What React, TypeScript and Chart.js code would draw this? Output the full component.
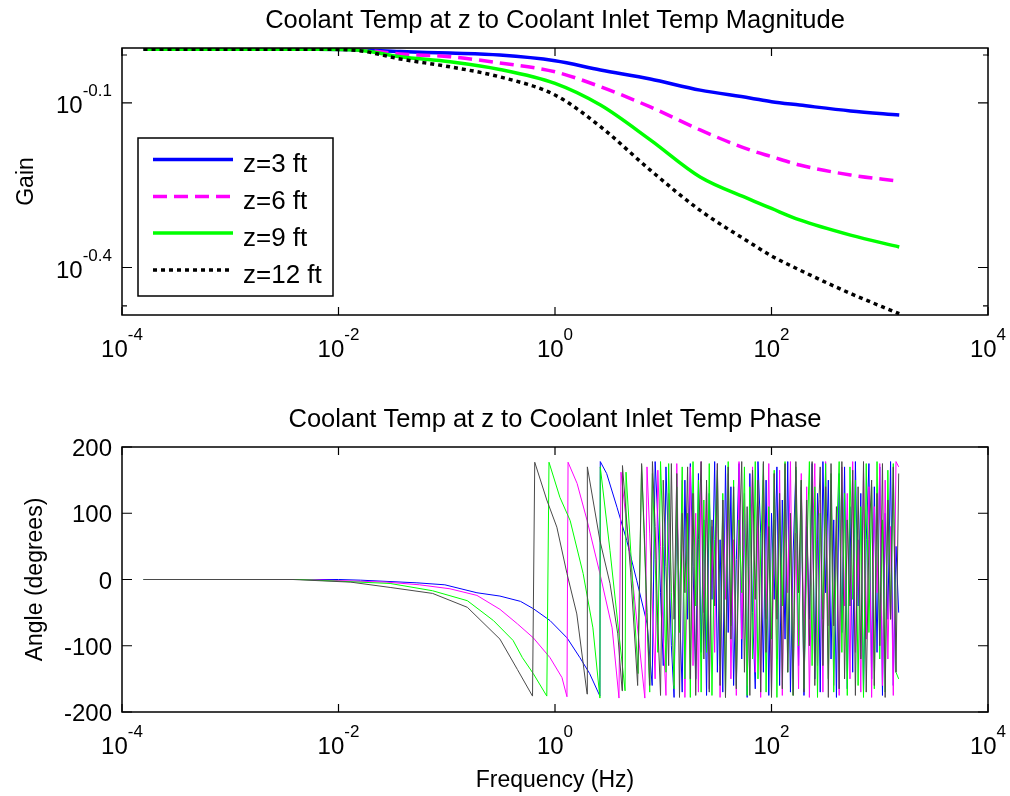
import React, { useEffect, useRef } from 'react';
import { Chart, registerables } from 'chart.js';

Chart.register(...registerables);

// ---------- shared ----------
const seriesNames = ['z=3 ft', 'z=6 ft', 'z=9 ft', 'z=12 ft'];
const gainColors = ['#0000ff', '#ff00ff', '#00ff00', '#000000'];
const phaseColors = ['#0000ff', '#ff00ff', '#00ff00', '#4a4a4a'];
const gainDashes: number[][] = [[], [14, 7], [], [4, 4]];

const xTickExponents = [-4, -2, 0, 2, 4];
const xMin = 1e-4;
const xMax = 1e4;

// ---------- magnitude ----------
const gainFreq = [1.58e-4, 0.0063, 0.0148, 0.0372, 0.107, 0.309, 1, 2.63, 7.59, 21.9, 63.1, 100, 182, 537, 1514];
const gainZ3 = [0.995, 0.995, 0.993, 0.985, 0.979, 0.971, 0.948, 0.912, 0.878, 0.838, 0.811, 0.798, 0.787, 0.768, 0.755];
const gainZ6 = [0.995, 0.995, 0.993, 0.975, 0.964, 0.939, 0.905, 0.85, 0.781, 0.709, 0.652, 0.634, 0.612, 0.587, 0.572];
const gainZ9 = [0.995, 0.995, 0.992, 0.964, 0.944, 0.914, 0.862, 0.787, 0.68, 0.582, 0.53, 0.51, 0.486, 0.456, 0.434];
const gainZ12 = [0.995, 0.995, 0.99, 0.955, 0.924, 0.886, 0.821, 0.719, 0.599, 0.506, 0.442, 0.418, 0.394, 0.357, 0.328];
const gainTickExponents = [-0.4, -0.1];
const gainMinorTicks = [0.339, 0.971];
const gainMin = 0.3262;
const gainMax = 1;

// ---------- phase ----------
const phaseLowFreqZ3 = [1.58e-4, 0.01, 0.016, 0.053, 0.096, 0.19, 0.31, 0.48, 0.63, 0.9, 1.29, 1.7, 2.09, 2.6, 2.62, 3.0, 3.74, 4.6, 5.7, 7.1, 7.9];
const phaseLowZ3 = [0, 0, -1, -5, -8, -20, -25, -33, -44, -62, -88, -118, -142, -176, 178, 160, 109, 59, -2, -67, -160];
const phaseLowFreqZ6 = [1.58e-4, 0.005, 0.028, 0.056, 0.107, 0.19, 0.31, 0.45, 0.63, 0.9, 1.16, 1.29, 1.32, 1.6, 1.98, 2.6, 3.37, 3.9, 4.07, 5.25, 6.76];
const phaseLowZ6 = [0, 0, -4, -8, -14, -24, -45, -67, -88, -118, -148, -177, 177, 145, 89, 9, -73, -179, 162, -6, -179];
const phaseLowFreqZ9 = [1.58e-4, 0.0044, 0.03, 0.074, 0.155, 0.27, 0.41, 0.5, 0.63, 0.84, 0.88, 1.11, 1.38, 1.82, 2.24, 2.6, 2.62, 3.22, 4.44, 4.53, 5.85];
const phaseLowZ9 = [0, 0, -6, -17, -32, -62, -92, -118, -142, -176, 177, 124, 89, 9, -73, -179, 170, 44, -168, 162, -142];
const phaseLowFreqZ12 = [1.58e-4, 0.0038, 0.013, 0.03, 0.074, 0.155, 0.31, 0.45, 0.62, 0.65, 0.84, 1.04, 1.29, 1.59, 1.98, 1.99, 2.6, 3.22, 3.8, 4.17, 4.2, 5.0, 5.8];
const phaseLowZ12 = [0, 0, -4, -12, -21, -42, -90, -136, -176, 177, 120, 79, 9, -52, -173, 170, 59, -6, -82, -168, 172, 10, -160];

// shared high-frequency sample grid, as log10(Hz)
const denseLogFreq = [
  0.8, 0.825, 0.85, 0.875, 0.9, 0.925, 0.95, 0.975, 1.0, 1.025,
  1.05, 1.075, 1.1, 1.125, 1.15, 1.175, 1.2, 1.225, 1.25, 1.275,
  1.3, 1.325, 1.35, 1.375, 1.4, 1.425, 1.45, 1.475, 1.5, 1.525,
  1.55, 1.575, 1.6, 1.625, 1.65, 1.675, 1.7, 1.725, 1.75, 1.775,
  1.8, 1.825, 1.85, 1.875, 1.9, 1.925, 1.95, 1.975, 2.0, 2.025,
  2.05, 2.075, 2.1, 2.125, 2.15, 2.175, 2.2, 2.225, 2.25, 2.275,
  2.3, 2.325, 2.35, 2.375, 2.4, 2.425, 2.45, 2.475, 2.5, 2.525,
  2.55, 2.575, 2.6, 2.625, 2.65, 2.675, 2.7, 2.725, 2.75, 2.775,
  2.8, 2.825, 2.85, 2.875, 2.9, 2.925, 2.95, 2.975, 3.0, 3.025,
  3.05, 3.075, 3.1, 3.125, 3.15, 3.175,
];
const phaseDenseZ3 = [
  178, 90, -20, -130, 170, 40, -100, -178, 120, -40,
  -170, 150, -60, 175, 20, -150, 160, -110, 90, -175,
  130, -30, 178, -140, 60, -170, 172, -80, 140, -160,
  30, 175, -120, 110, -178, 160, -50, -165, 178, 70,
  -140, 150, -175, 100, -30, 170, -160, 120, -90, 178,
  -170, 40, 165, -130, 140, -175, 80, -60, 175, -150,
  130, -170, 178, -20, 150, -120, 90, -178, 160, -80,
  170, -165, 110, -140, 178, -40, 130, -170, 60, 175,
  -150, 140, -110, 170, -175, 100, -60, 178, -160, 50,
  -50,
];
const phaseDenseZ6 = [
  170, 70, -40, -150, 165, 50, -90, -175, 130, -20,
  -160, 175, -70, 150, -178, 40, 170, -130, 100, -170,
  178, -50, 140, -165, 80, -110, 175, -178, 120, -30,
  160, -150, 60, -175, 178, -90, 130, -160, 20, 170,
  -140, 110, -178, 150, -60, 175, -170, 90, -120, 165,
  -175, 130, -20, 178, -150, 70, -165, 160, -100, 140,
  -178, 40, 175, -130, 120, -170, 178, -70, 150, -160,
  90, -175, 170, -40, 130, -150, 178, -110, 60, -170,
  165, -90, 140, -178, 110, -20, 175, -160, 150, -120,
  80, -175, 178, 170,
];
const phaseDenseZ9 = [
  172, 60, -60, -170, 160, 30, -110, 178, 50, -140,
  175, -20, -165, 140, -80, 170, -150, 100, -178, 178,
  -40, 150, -170, 120, -110, 175, -175, 60, 165, -130,
  130, -178, 178, -70, 150, -160, 90, -20, 170, -175,
  140, -120, 178, -150, 40, 175, -170, 110, -90, 165,
  -178, 120, -40, 178, -140, 80, -175, 170, -100, 150,
  -165, 30, 178, -130, 140, -178, 100, -60, 175, -150,
  160, -170, 60, 178, -110, 130, -175, 170, -30, 150,
  -160, 110, -178, 175, -80, 140, -165, 178, -120, 90,
  -170, 165, -60, 175, -140, -150,
];
const phaseDenseZ12 = [
  175, 70, -50, -160, 178, 80, -70, -175, 150, 20,
  -130, 175, -60, 160, -178, 100, -20, 170, -150, 130,
  -175, 60, 178, -120, 150, -170, 90, -40, 175, -160,
  120, -178, 170, -90, 140, -165, 50, 178, -140, 110,
  -175, 165, -30, 150, -170, 178, -110, 80, -178, 160,
  -60, 130, -165, 175, -140, 100, -175, 178, -20, 150,
  -170, 120, -100, 178, -160, 60, 170, -130, 140, -178,
  175, -70, 110, -165, 178, -150, 90, -40, 165, -175,
  140, -120, 178, -170, 60, 150, -160, 130, -100, 175,
  -178, 120, -60, 170, -140, 160,
];
const angleTicks = [-200, -100, 0, 100, 200];
const angleMin = -200;
const angleMax = 200;

// ---------- drawing helpers ----------
const FAMILY = '"Liberation Sans", Arial, Helvetica, sans-serif';
const MAIN_FONT = `24px ${FAMILY}`;
const SUP_FONT = `17px ${FAMILY}`;
const TITLE_FONT = `25.5px ${FAMILY}`;
const LABEL_FONT = `23px ${FAMILY}`;
const LEGEND_FONT = `26px ${FAMILY}`;

function drawPow(ctx: CanvasRenderingContext2D, exp: string, x: number, baseline: number, align: 'center' | 'right') {
  ctx.font = MAIN_FONT;
  const wb = ctx.measureText('10').width;
  ctx.font = SUP_FONT;
  const we = ctx.measureText(exp).width;
  const total = wb + we;
  const start = align === 'center' ? x - total / 2 : x - total;
  ctx.textAlign = 'left';
  ctx.textBaseline = 'alphabetic';
  ctx.font = MAIN_FONT;
  ctx.fillText('10', start, baseline);
  ctx.font = SUP_FONT;
  ctx.fillText(exp, start + wb, baseline - 17);
}

type DecorCfg = {
  title: string;
  yLabel: string;
  yLabelOffset: number;
  xLabel?: string;
  logY: boolean;
  yTicks: number[];
  yMinorTicks?: number[];
  legend?: boolean;
};

function makeDecor(cfg: DecorCfg) {
  return {
    id: 'matlabDecor',
    afterDraw(chart: any) {
      const ctx: CanvasRenderingContext2D = chart.ctx;
      const a = chart.chartArea;
      const xs = chart.scales.x;
      const ys = chart.scales.y;
      ctx.save();
      ctx.fillStyle = '#000';
      ctx.strokeStyle = '#000';

      // box
      ctx.lineWidth = 1.5;
      ctx.strokeRect(a.left, a.top, a.right - a.left, a.bottom - a.top);

      // x ticks (inward, bottom and top)
      ctx.lineWidth = 1.2;
      xTickExponents.forEach((e) => {
        const px = xs.getPixelForValue(Math.pow(10, e));
        ctx.beginPath();
        ctx.moveTo(px, a.bottom);
        ctx.lineTo(px, a.bottom - 8);
        ctx.moveTo(px, a.top);
        ctx.lineTo(px, a.top + 8);
        ctx.stroke();
        drawPow(ctx, String(e), px, a.bottom + 42, 'center');
      });

      // y ticks
      cfg.yTicks.forEach((v) => {
        const val = cfg.logY ? Math.pow(10, v) : v;
        const py = ys.getPixelForValue(val);
        ctx.beginPath();
        ctx.moveTo(a.left, py);
        ctx.lineTo(a.left + 10, py);
        ctx.moveTo(a.right, py);
        ctx.lineTo(a.right - 10, py);
        ctx.stroke();
        if (cfg.logY) {
          drawPow(ctx, String(v), a.left - 10, py + 10, 'right');
        } else {
          ctx.font = MAIN_FONT;
          ctx.textAlign = 'right';
          ctx.textBaseline = 'alphabetic';
          ctx.fillText(String(v), a.left - 10, py + 9);
        }
      });
      (cfg.yMinorTicks || []).forEach((v) => {
        const py = ys.getPixelForValue(v);
        ctx.beginPath();
        ctx.moveTo(a.left, py);
        ctx.lineTo(a.left + 5, py);
        ctx.moveTo(a.right, py);
        ctx.lineTo(a.right - 5, py);
        ctx.stroke();
      });

      // title
      ctx.font = TITLE_FONT;
      ctx.textAlign = 'center';
      ctx.textBaseline = 'alphabetic';
      ctx.fillText(cfg.title, (a.left + a.right) / 2, a.top - 20);

      // x label
      if (cfg.xLabel) {
        ctx.font = LABEL_FONT;
        ctx.fillText(cfg.xLabel, (a.left + a.right) / 2, a.bottom + 75);
      }

      // y label
      ctx.save();
      ctx.translate(a.left - cfg.yLabelOffset, (a.top + a.bottom) / 2);
      ctx.rotate(-Math.PI / 2);
      ctx.font = LABEL_FONT;
      ctx.textAlign = 'center';
      ctx.fillText(cfg.yLabel, 0, 0);
      ctx.restore();

      // legend
      if (cfg.legend) {
        const bx = a.left + 16;
        const by = a.top + 90;
        const bw = 195;
        const bh = 158;
        ctx.fillStyle = '#fff';
        ctx.fillRect(bx, by, bw, bh);
        ctx.lineWidth = 1.5;
        ctx.strokeStyle = '#000';
        ctx.strokeRect(bx, by, bw, bh);
        const rows = [21.5, 58.5, 95, 132];
        chart.data.datasets.forEach((ds: any, i: number) => {
          const ry = by + rows[i];
          ctx.beginPath();
          ctx.setLineDash(ds.borderDash || []);
          ctx.lineCap = 'butt';
          ctx.strokeStyle = ds.borderColor;
          ctx.lineWidth = ds.borderWidth;
          ctx.moveTo(bx + 15, ry);
          ctx.lineTo(bx + 95, ry);
          ctx.stroke();
          ctx.setLineDash([]);
          ctx.fillStyle = '#000';
          ctx.font = LEGEND_FONT;
          ctx.textAlign = 'left';
          ctx.textBaseline = 'alphabetic';
          ctx.fillText(ds.label, bx + 105, ry + 12.5);
        });
      }
      ctx.restore();
    },
  };
}

function pairs(freq: number[], vals: number[]) {
  return vals.map((v, i) => ({ x: freq[i], y: v }));
}

function phaseSeries(lowF: number[], low: number[], dense: number[]) {
  const df = denseLogFreq.slice(denseLogFreq.length - dense.length).map((e) => Math.pow(10, e));
  return [...pairs(lowF, low), ...pairs(df, dense)];
}

const baseScales = (yType: 'logarithmic' | 'linear', yMin: number, yMax: number) => ({
  x: { type: 'logarithmic' as const, min: xMin, max: xMax, display: false },
  y: { type: yType, min: yMin, max: yMax, display: false },
});

function GainChart() {
  const ref = useRef<HTMLCanvasElement>(null);
  useEffect(() => {
    if (!ref.current) return;
    const gains = [gainZ3, gainZ6, gainZ9, gainZ12];
    const chart = new Chart(ref.current, {
      type: 'line',
      data: {
        datasets: gains.map((g, i) => ({
          label: seriesNames[i],
          data: pairs(gainFreq, g),
          borderColor: gainColors[i],
          backgroundColor: gainColors[i],
          borderWidth: 3.5,
          borderDash: gainDashes[i],
          borderCapStyle: 'butt' as const,
          pointRadius: 0,
          cubicInterpolationMode: 'monotone' as const,
          fill: false,
          order: 3 - i,
        })),
      },
      options: {
        animation: false,
        responsive: false,
        maintainAspectRatio: false,
        events: [],
        layout: { padding: { left: 122, right: 22, top: 48, bottom: 83 } },
        scales: baseScales('logarithmic', gainMin, gainMax) as any,
        plugins: { legend: { display: false }, tooltip: { enabled: false }, title: { display: false } },
      },
      plugins: [
        makeDecor({
          title: 'Coolant Temp at z to Coolant Inlet Temp Magnitude',
          yLabel: 'Gain',
          yLabelOffset: 89,
          logY: true,
          yTicks: gainTickExponents,
          yMinorTicks: gainMinorTicks,
          legend: true,
        }),
      ],
    });
    return () => chart.destroy();
  }, []);
  return <canvas ref={ref} width={1010} height={398} style={{ width: 1010, height: 398, display: 'block' }} />;
}

function PhaseChart() {
  const ref = useRef<HTMLCanvasElement>(null);
  useEffect(() => {
    if (!ref.current) return;
    const series = [
      phaseSeries(phaseLowFreqZ3, phaseLowZ3, phaseDenseZ3),
      phaseSeries(phaseLowFreqZ6, phaseLowZ6, phaseDenseZ6),
      phaseSeries(phaseLowFreqZ9, phaseLowZ9, phaseDenseZ9),
      phaseSeries(phaseLowFreqZ12, phaseLowZ12, phaseDenseZ12),
    ];
    const chart = new Chart(ref.current, {
      type: 'line',
      data: {
        datasets: series.map((d, i) => ({
          label: seriesNames[i],
          data: d,
          borderColor: phaseColors[i],
          backgroundColor: phaseColors[i],
          borderWidth: 1,
          pointRadius: 0,
          tension: 0,
          fill: false,
          order: 3 - i,
        })),
      },
      options: {
        animation: false,
        responsive: false,
        maintainAspectRatio: false,
        events: [],
        layout: { padding: { left: 122, right: 22, top: 49, bottom: 84 } },
        scales: baseScales('linear', angleMin, angleMax) as any,
        plugins: { legend: { display: false }, tooltip: { enabled: false }, title: { display: false } },
      },
      plugins: [
        makeDecor({
          title: 'Coolant Temp at z to Coolant Inlet Temp Phase',
          yLabel: 'Angle (degrees)',
          yLabelOffset: 80,
          xLabel: 'Frequency (Hz)',
          logY: false,
          yTicks: angleTicks,
        }),
      ],
    });
    return () => chart.destroy();
  }, []);
  return <canvas ref={ref} width={1010} height={398} style={{ width: 1010, height: 398, display: 'block' }} />;
}

export default function App() {
  return (
    <div style={{ position: 'absolute', left: 0, top: 0, width: 1010, height: 796, background: '#fff' }}>
      <GainChart />
      <PhaseChart />
    </div>
  );
}
